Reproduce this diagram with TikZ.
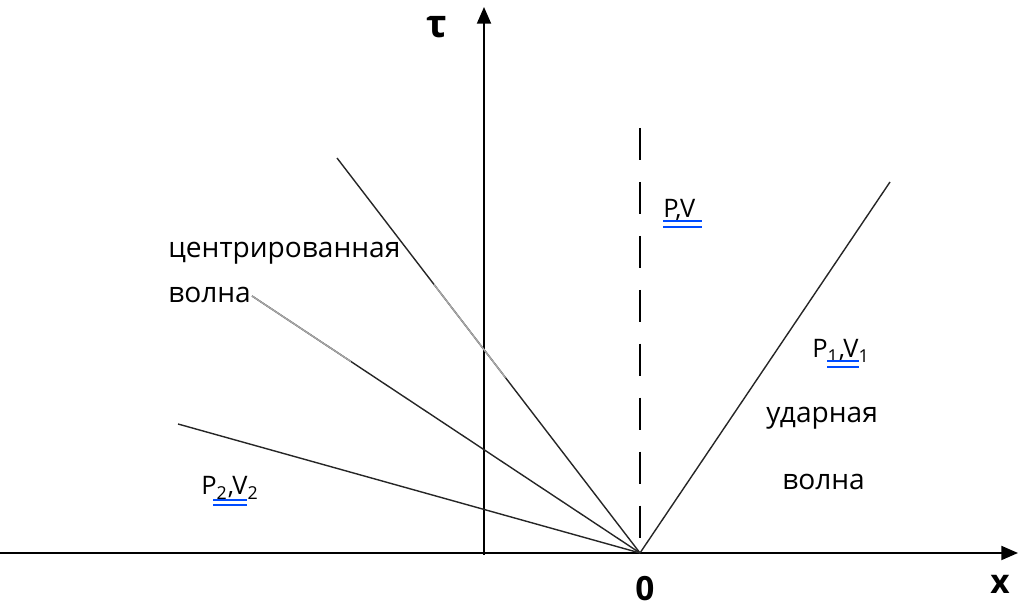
\documentclass[tikz,border=0pt]{standalone}
\usepackage{fontspec}
\setmainfont{Open Sans}
\usetikzlibrary{arrows.meta,calc}

\tikzset{
  ray/.style={line width=0.8pt, black!85},
  faint/.style={line width=0.8pt, black!35},
  axis/.style={-{Triangle[length=9.5pt,width=8pt]}, line width=1pt},
  wavetext/.style={font=\fontsize{16}{19}\selectfont, anchor=base west, inner sep=0pt},
  statetext/.style={font=\fontsize{14.5}{17}\selectfont, anchor=base west, inner sep=0pt},
  axislabel/.style={font=\bfseries\fontsize{19}{22}\selectfont, anchor=base, inner sep=0pt},
  spellmark/.style={blue!70!cyan, line width=0.6pt}
}

\begin{document}
\begin{tikzpicture}[x=0.02cm, y=-0.02cm]
\useasboundingbox (0,0) rectangle (1022,607);

% Axes
\coordinate (xstart) at (0,553);
\coordinate (xend) at (1018,553);
\coordinate (tstart) at (484,555);
\coordinate (tend) at (484,7);
\draw[axis] (xstart) -- (xend);
\draw[axis] (tstart) -- (tend);
\node[axislabel, font=\bfseries\fontsize{22}{24}\selectfont] (tlab) at (437,38) {τ};
\node[axislabel] (xlab) at (1000,594) {x};
\node[axislabel] (zero) at (645,601) {0};

% Rays from the origin
\coordinate (O) at (640,553);
\coordinate (A) at (337,158);
\coordinate (B) at (252,296);
\coordinate (C) at (178,424);
\coordinate (D) at (890,182);
\coordinate (Dtop) at (640,128);

\draw[ray] (O) -- (A);
\draw[faint] ($(O)!0.444!(A)$) -- ($(O)!0.68!(A)$);
\draw[ray] (O) -- (B);
\draw[faint] ($(O)!0.745!(B)$) -- (B);
\draw[ray] (O) -- (C);
\draw[ray] (O) -- (D);

% Contact discontinuity
\draw[line width=1pt, dash pattern=on 18.2pt off 12.5pt] (Dtop) -- (O);

% Labels
\node[wavetext] (cw1) at (168,258) {центрированная};
\node[wavetext] (cw2) at (168,303) {волна};
\node[wavetext] (sw1) at (766,423) {ударная};
\node[wavetext] (sw2) at (782,490) {волна};

\node[statetext] (pv) at (663,218) {P,V};
\node[statetext] (pv1) at (812,358) {P\textsubscript{1},V\textsubscript{1}};
\node[statetext] (pv2) at (201,495) {P\textsubscript{2},V\textsubscript{2}};

% Spell-check underlines
\draw[spellmark] (663,221) -- (702,221) (663,227) -- (702,227);
\draw[spellmark] (827,361) -- (859,361) (827,367) -- (859,367);
\draw[spellmark] (213,500) -- (247,500) (213,505) -- (247,505);

\end{tikzpicture}
\end{document}
